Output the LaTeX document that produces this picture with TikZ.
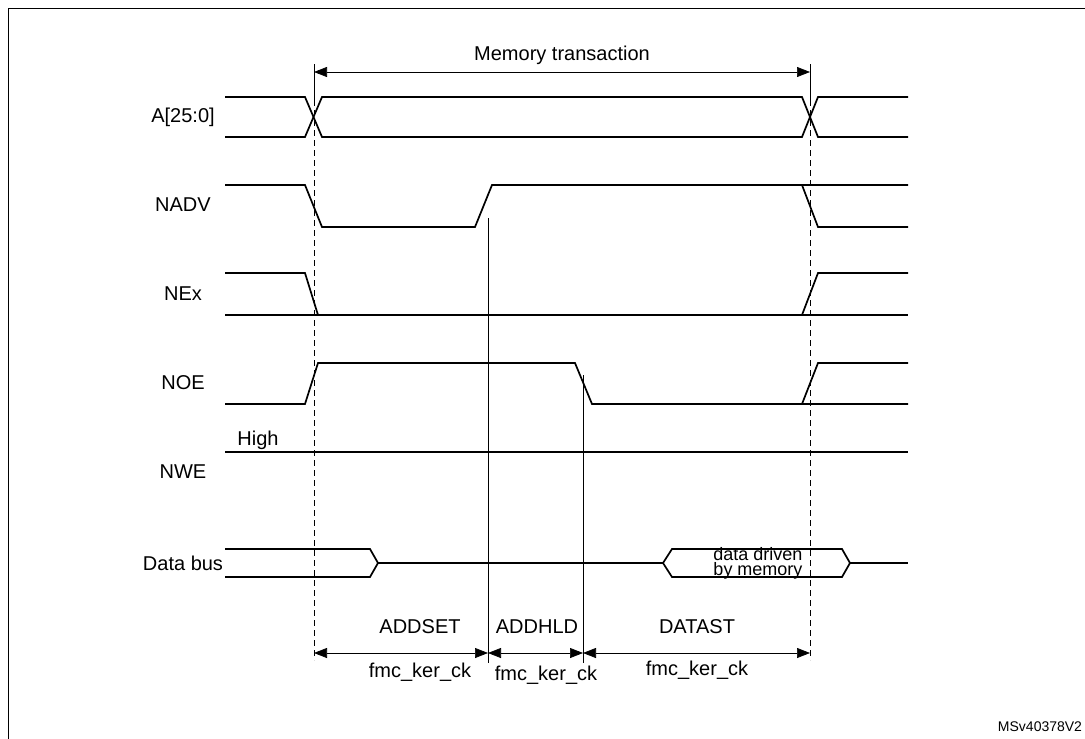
\documentclass[tikz,border=0pt]{standalone}
\usepackage{fontspec}
\setmainfont{Liberation Sans}
\usetikzlibrary{arrows.meta}

\tikzset{
  sig/.style={line width=1.7pt},
  guide/.style={line width=0.6pt},
  dim/.style={line width=0.7pt,{Triangle[length=13pt,width=10pt]}-{Triangle[length=13pt,width=10pt]}},
  lbl/.style={font=\fontsize{20}{22}\selectfont,inner sep=1pt}
}

\begin{document}
\begin{tikzpicture}[x=1pt,y=-1pt]
\useasboundingbox (0,0) rectangle (1085,739);
\draw[line width=0.8pt] (8,8) rectangle (1100,760);

% signal names
\node[lbl] (nA) at (183,117) {A[25:0]};
\node[lbl] (nADV) at (183,205) {NADV};
\node[lbl] (nEx) at (183,294) {NEx};
\node[lbl] (nOE) at (183,383) {NOE};
\node[lbl] (nWE) at (183,472) {NWE};
\node[lbl] (nData) at (183,563) {Data bus};
\node[lbl] (high) at (258,440) {High};

% guide lines
\draw[guide,dash pattern=on 6pt off 4pt] (314,100) -- (314,660);
\draw[guide,dash pattern=on 6pt off 4pt] (810,100) -- (810,660);
\draw[guide] (314,64) -- (314,100);
\draw[guide] (810,64) -- (810,100);
\draw[guide] (488,218) -- (488,663);
\draw[guide] (583,375) -- (583,663);

% A[25:0]
\draw[sig] (225,97) -- (305,97) -- (322,137) -- (802,137) -- (818,97) -- (908,97);
\draw[sig] (225,137) -- (305,137) -- (322,97) -- (802,97) -- (818,137) -- (908,137);
% NADV
\draw[sig] (225,185) -- (305,185) -- (322,227) -- (475,227) -- (492,185) -- (908,185);
\draw[sig] (802,185) -- (818,227) -- (908,227);
% NEx
\draw[sig] (225,273) -- (305,273) -- (318,315);
\draw[sig] (225,315) -- (908,315);
\draw[sig] (802,315) -- (818,273) -- (908,273);
% NOE
\draw[sig] (225,404) -- (305,404) -- (318,363) -- (575,363) -- (592,404) -- (908,404);
\draw[sig] (802,404) -- (818,363) -- (908,363);
% NWE
\draw[sig] (225,452) -- (908,452);
% Data bus
\draw[sig] (225,549) -- (370,549) -- (378,563) -- (370,577) -- (225,577);
\draw[sig] (378,563) -- (663,563) -- (672,549) -- (842,549) -- (850,563) -- (842,577) -- (672,577) -- (663,563);
\draw[sig] (850,563) -- (908,563);
\node[lbl,align=center,font=\fontsize{18}{15}\selectfont] (drv) at (758,563) {data driven\\by memory};

% durations
\coordinate (t0) at (314,72);
\coordinate (t1) at (810,72);
\draw[dim] (t0) -- (t1) node[lbl,midway,above=6pt] {Memory transaction};

\coordinate (b0) at (314,653);
\coordinate (b1) at (488,653);
\coordinate (b2) at (583,653);
\coordinate (b3) at (810,653);
\draw[dim] (b0) -- (b1);
\draw[dim] (b1) -- (b2);
\draw[dim] (b2) -- (b3);
\node[lbl] (addset) at (420,627) {ADDSET};
\node[lbl] (addhld) at (537,627) {ADDHLD};
\node[lbl] (datast) at (697,627) {DATAST};
\node[lbl] (ck1) at (420,672) {fmc\_ker\_ck};
\node[lbl] (ck2) at (546,675) {fmc\_ker\_ck};
\node[lbl] (ck3) at (697,670) {fmc\_ker\_ck};

\node[font=\fontsize{14}{16}\selectfont] (ref) at (1040,727) {MSv40378V2};
\end{tikzpicture}
\end{document}
